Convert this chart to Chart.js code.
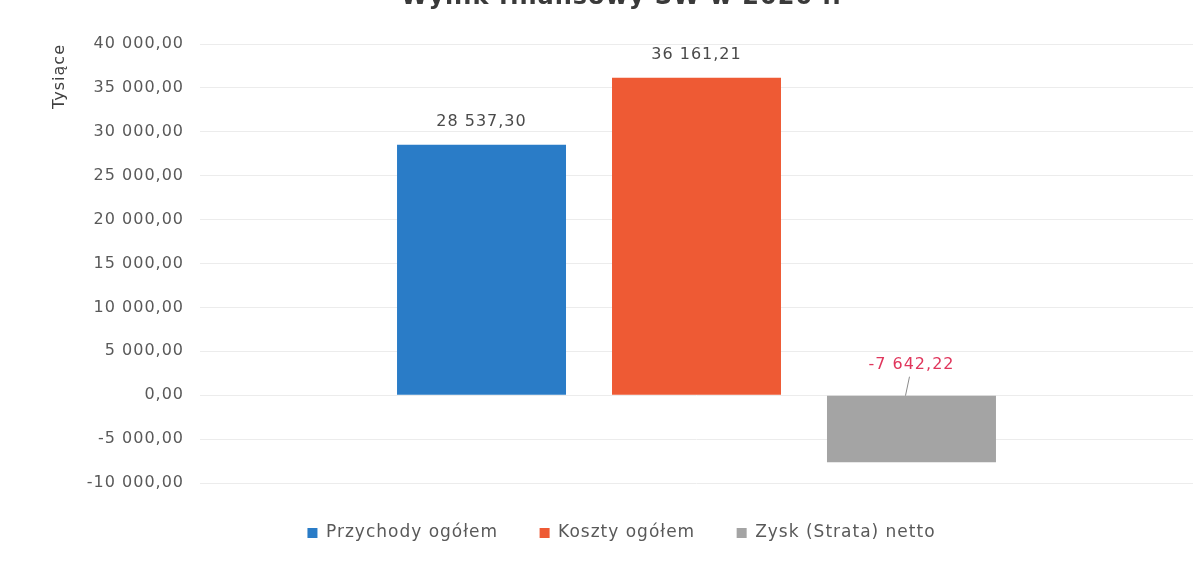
<!DOCTYPE html>
<html>
<head>
<meta charset="utf-8">
<script src="https://cdn.jsdelivr.net/npm/chart.js@4"></script>
<style>
  html, body { margin: 0; padding: 0; background: #ffffff; }
  canvas { display: block; }
</style>
</head>
<body>
<canvas id="c" width="1201" height="561"></canvas>
<script>
// ---- data ----
const chartTitle = 'Wynik finansowy SW w 2020 r.';
const axisTitle = 'Tysiące';
const categories = [''];
const seriesNames = ['Przychody ogółem', 'Koszty ogółem', 'Zysk (Strata) netto'];
const przychody = [28537.30];
const koszty = [36161.21];
const zysk = [-7642.22];
const yTicks = [-10000, -5000, 0, 5000, 10000, 15000, 20000, 25000, 30000, 35000, 40000];

const seriesColors = ['#2a7cc7', '#ee5a34', '#a4a4a4'];

function fmtPL(v) {
  const neg = v < 0;
  const s = Math.abs(v).toFixed(2);
  let [i, d] = s.split('.');
  i = i.replace(/\B(?=(\d{3})+(?!\d))/g, ' ');
  return (neg ? '-' : '') + i + ',' + d;
}

const FONT = 'DejaVu Sans';
const SPACING = '1px';

const spacingPlugin = {
  id: 'spacing',
  beforeUpdate(chart) { chart.ctx.letterSpacing = SPACING; },
  beforeDraw(chart) { chart.ctx.letterSpacing = SPACING; }
};

const labelPlugin = {
  id: 'valueLabels',
  afterDatasetsDraw(chart) {
    const ctx = chart.ctx;
    ctx.save();
    ctx.letterSpacing = SPACING;
    ctx.font = '16px "' + FONT + '"';
    ctx.textAlign = 'center';
    ctx.textBaseline = 'middle';
    chart.data.datasets.forEach((ds, i) => {
      const meta = chart.getDatasetMeta(i);
      meta.data.forEach((el, j) => {
        const v = ds.data[j];
        const txt = fmtPL(v);
        if (v >= 0) {
          ctx.fillStyle = '#4a4a4a';
          ctx.fillText(txt, el.x, el.y - 23);
        } else {
          const base = el.base;
          ctx.fillStyle = '#e0365c';
          ctx.fillText(txt, el.x, base - 31);
          ctx.strokeStyle = '#8a8a8a';
          ctx.lineWidth = 1;
          ctx.beginPath();
          ctx.moveTo(el.x - 2, base - 19);
          ctx.lineTo(el.x - 6, base);
          ctx.stroke();
        }
      });
    });
    ctx.restore();
  }
};

const datasets = [przychody, koszty, zysk].map((vals, i) => ({
  label: seriesNames[i],
  data: vals,
  backgroundColor: seriesColors[i],
  borderWidth: 0,
  categoryPercentage: 0.6495,
  barPercentage: 0.786
}));

new Chart(document.getElementById('c'), {
  type: 'bar',
  data: { labels: categories, datasets },
  options: {
    responsive: false,
    animation: false,
    devicePixelRatio: 1,
    layout: { padding: { left: 50, right: 8, top: 0, bottom: 9.5 } },
    plugins: {
      title: {
        display: true,
        text: chartTitle,
        color: '#3a3a3a',
        font: { family: FONT, size: 24, weight: 'bold' },
        padding: { top: -16.8, bottom: 32 }
      },
      legend: {
        position: 'bottom',
        labels: {
          boxWidth: 10,
          boxHeight: 10,
          padding: 41.5,
          color: '#595959',
          font: { family: FONT, size: 17 }
        }
      },
      tooltip: { enabled: false }
    },
    scales: {
      x: {
        display: true,
        grid: { display: false },
        border: { display: false },
        ticks: { display: false },
        afterFit(s) { s.height = 0; }
      },
      y: {
        min: -10000,
        max: 40000,
        afterBuildTicks(s) { s.ticks = yTicks.map(v => ({ value: v })); },
        afterFit(s) { s.width = 150; },
        grid: { color: '#ececec', lineWidth: 1, drawTicks: false },
        border: { display: false },
        ticks: {
          padding: 16,
          color: '#595959',
          font: { family: FONT, size: 16 },
          callback: (v) => fmtPL(v)
        },
        title: {
          display: true,
          text: axisTitle,
          align: 'end',
          color: '#404040',
          font: { family: FONT, size: 16 },
          padding: { top: 0, bottom: 0 }
        }
      }
    }
  },
  plugins: [spacingPlugin, labelPlugin]
});
</script>
</body>
</html>
